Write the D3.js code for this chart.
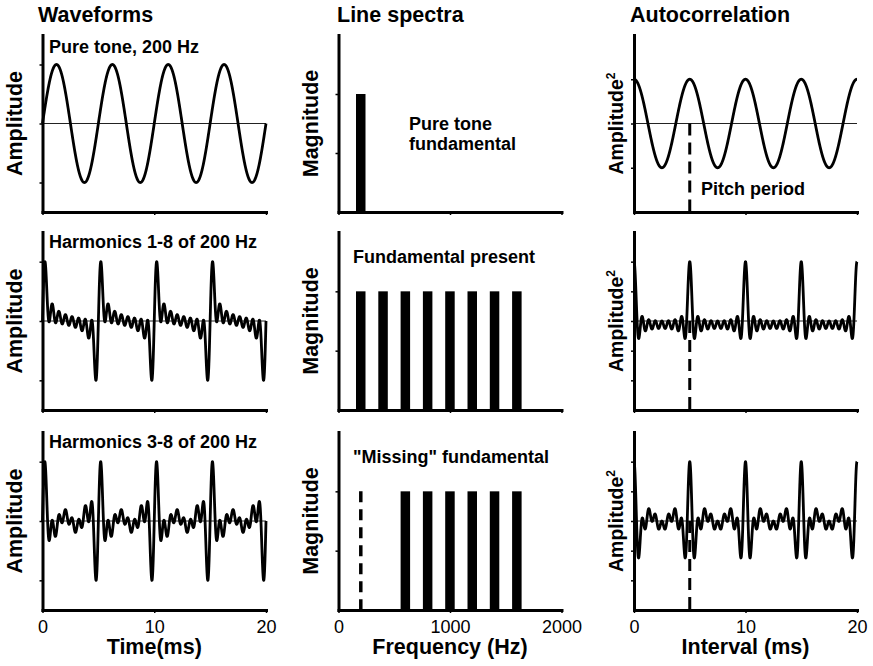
<!DOCTYPE html>
<html>
<head>
<meta charset="utf-8">
<script src="https://cdn.jsdelivr.net/npm/d3@7/dist/d3.min.js"></script>
<style>
body{margin:0;background:#fff;}
svg text{font-family:"Liberation Sans",Arial,Helvetica,sans-serif;fill:#000;}
</style>
</head>
<body>
<svg id="canvas" width="873" height="666"></svg>
<script>
// chart data
var fundamentalHz = 200;
var columnTitles = ["Waveforms", "Line spectra", "Autocorrelation"];
var yLabels = ["Amplitude", "Magnitude", "Amplitude"];
var xLabels = ["Time(ms)", "Frequency (Hz)", "Interval (ms)"];
var waveformLabels = ["Pure tone, 200 Hz", "Harmonics 1-8 of 200 Hz", "Harmonics 3-8 of 200 Hz"];
var spectrumNotes = [["Pure tone", "fundamental"], ["Fundamental present"], ["\"Missing\" fundamental"]];
var harmonicSets = [[1], [1, 2, 3, 4, 5, 6, 7, 8], [3, 4, 5, 6, 7, 8]];
var missingSets = [[], [], [1]];
var harmonicMagnitude = 1;
var timeTicks = [0, 10, 20];
var freqTicks = [0, 1000, 2000];
var waveTicks = [-1, 0, 1];
var magTicks = [0.5, 1];
var autoTicks = [[-1, 0, 1], [-1, -0.5, 0, 0.5, 1], [-1, -0.5, 0, 0.5, 1]];
var autoDomainMax = [2, 1.5, 1.5];
var pitchPeriodMs = 5;
var pitchLabel = "Pitch period";

// layout
var colX = [[42.5, 266], [338.5, 561.5], [634, 857]];
var rowY = [[212, 35], [410, 232], [610, 432]];
var titleX = [38, 337, 630];
var yLabelX = [22, 318, 623];
var waveLabelY = [53, 248, 448];
var noteXY = [[409, 130], [353, 263], [353, 463]];

var ChartWidget = {
	svg: null,
	sampleTimes: d3.range(0, 20.0001, 0.01),
	init: function(){
		ChartWidget.svg = d3.select("#canvas");
		ChartWidget.drawTitles();
		for (var r = 0; r < 3; r++) {
			ChartWidget.drawWaveform(r);
			ChartWidget.drawSpectrum(r);
			ChartWidget.drawAutocorr(r);
		}
	},
	// sum of harmonics of the fundamental (t in ms)
	waveValue: function(harmonics, t){
		return d3.sum(harmonics, function(n){
			return harmonicMagnitude * Math.sin(2 * Math.PI * n * fundamentalHz * t / 1000);
		});
	},
	autoValue: function(harmonics, tau){
		return d3.sum(harmonics, function(n){
			return harmonicMagnitude * harmonicMagnitude / 2 * Math.cos(2 * Math.PI * n * fundamentalHz * tau / 1000);
		});
	},
	drawAxes: function(g, x, y, xTicks, yTicks, showLabels){
		var ax = g.append("g")
		.attr("transform", "translate(0," + y.range()[0] + ")")
		.call(d3.axisBottom(x).tickValues(xTicks).tickSize(3).tickSizeOuter(0).tickPadding(7)
			.tickFormat(showLabels ? d3.format("d") : ""));
		var ay = g.append("g")
		.attr("transform", "translate(" + x.range()[0] + ",0)")
		.call(d3.axisLeft(y).tickValues(yTicks).tickSize(3).tickSizeOuter(0).tickFormat(""));
		[ax, ay].forEach(function(a){
			a.select(".domain").attr("stroke", "#000").attr("stroke-width", 3).attr("stroke-linecap", "square");
			a.selectAll(".tick line").attr("stroke", "#000").attr("stroke-width", 1.5);
			a.selectAll(".tick text").attr("font-size", 18).attr("font-family", null).attr("fill", "#000");
		});
	},
	zeroLine: function(g, x, y){
		g.append("line")
		.attr("x1", x.range()[0]).attr("x2", x.range()[1])
		.attr("y1", y(0)).attr("y2", y(0))
		.attr("stroke", "#222").attr("stroke-width", 1);
	},
	drawWaveform: function(r){
		var g = ChartWidget.svg.append("g");
		var x = d3.scaleLinear().domain([0, 20]).range(colX[0]);
		var y = d3.scaleLinear().domain([-1.5, 1.5]).range(rowY[r]);
		var h = harmonicSets[r];
		var pts = ChartWidget.sampleTimes.map(function(t){ return [t, ChartWidget.waveValue(h, t)]; });
		var peak = d3.max(pts, function(d){ return Math.abs(d[1]); });
		ChartWidget.zeroLine(g, x, y);
		g.append("path")
		.attr("d", d3.line().x(function(d){ return x(d[0]); }).y(function(d){ return y(d[1] / peak); })(pts))
		.attr("fill", "none").attr("stroke", "#000").attr("stroke-width", 2.8).attr("stroke-linejoin", "round");
		ChartWidget.drawAxes(g, x, y, timeTicks, waveTicks, r == 2);
		g.append("text").attr("x", 49).attr("y", waveLabelY[r])
		.attr("font-size", 18).attr("font-weight", "bold").text(waveformLabels[r]);
		ChartWidget.yLabel(0, r, y);
	},
	drawSpectrum: function(r){
		var g = ChartWidget.svg.append("g");
		var x = d3.scaleLinear().domain([0, 2000]).range(colX[1]);
		var y = d3.scaleLinear().domain([0, 1.5]).range(rowY[r]);
		g.selectAll("rect").data(harmonicSets[r]).enter().append("rect")
		.attr("x", function(n){ return x(n * fundamentalHz) - 4.8; })
		.attr("width", 9.5)
		.attr("y", y(harmonicMagnitude))
		.attr("height", y(0) - y(harmonicMagnitude))
		.attr("fill", "#000");
		g.selectAll(".missing").data(missingSets[r]).enter().append("line")
		.attr("class", "missing")
		.attr("x1", function(n){ return x(n * fundamentalHz); })
		.attr("x2", function(n){ return x(n * fundamentalHz); })
		.attr("y1", y(harmonicMagnitude)).attr("y2", y(0))
		.attr("stroke", "#000").attr("stroke-width", 3.5).attr("stroke-dasharray", "11,7");
		ChartWidget.drawAxes(g, x, y, freqTicks, magTicks, r == 2);
		var note = g.append("text").attr("font-size", 18).attr("font-weight", "bold");
		spectrumNotes[r].forEach(function(line, i){
			note.append("tspan").attr("x", noteXY[r][0]).attr("y", noteXY[r][1] + i * 20).text(line);
		});
		ChartWidget.yLabel(1, r, y);
	},
	drawAutocorr: function(r){
		var g = ChartWidget.svg.append("g");
		var x = d3.scaleLinear().domain([0, 20]).range(colX[2]);
		var y = d3.scaleLinear().domain([-autoDomainMax[r], autoDomainMax[r]]).range(rowY[r]);
		var h = harmonicSets[r];
		var r0 = ChartWidget.autoValue(h, 0);
		var pts = ChartWidget.sampleTimes.map(function(t){ return [t, ChartWidget.autoValue(h, t) / r0]; });
		ChartWidget.zeroLine(g, x, y);
		g.append("line")
		.attr("x1", x(pitchPeriodMs)).attr("x2", x(pitchPeriodMs))
		.attr("y1", y(0)).attr("y2", y.range()[0])
		.attr("stroke", "#000").attr("stroke-width", 3).attr("stroke-dasharray", "12,7");
		g.append("path")
		.attr("d", d3.line().x(function(d){ return x(d[0]); }).y(function(d){ return y(d[1]); })(pts))
		.attr("fill", "none").attr("stroke", "#000").attr("stroke-width", 2.8).attr("stroke-linejoin", "round");
		ChartWidget.drawAxes(g, x, y, timeTicks, autoTicks[r], r == 2);
		if (r == 0) {
			g.append("text").attr("x", 701).attr("y", 195)
			.attr("font-size", 18).attr("font-weight", "bold").text(pitchLabel);
		}
		ChartWidget.yLabel(2, r, y);
	},
	yLabel: function(c, r, y){
		var cy = (y.range()[0] + y.range()[1]) / 2;
		var t = ChartWidget.svg.append("text")
		.attr("transform", "translate(" + yLabelX[c] + "," + cy + ") rotate(-90)")
		.attr("text-anchor", "middle")
		.attr("font-size", c == 2 ? 19.5 : 21.5).attr("font-weight", "bold")
		.text(yLabels[c]);
		// squared unit on the autocorrelation panels
		if (c == 2) {
			t.append("tspan").attr("font-size", 12).attr("dy", -8).text("2");
		}
	},
	drawTitles: function(){
		var svg = ChartWidget.svg;
		columnTitles.forEach(function(t, i){
			svg.append("text").attr("x", titleX[i]).attr("y", 22)
			.attr("font-size", 21.5).attr("font-weight", "bold").text(t);
		});
		xLabels.forEach(function(t, i){
			svg.append("text").attr("x", (colX[i][0] + colX[i][1]) / 2).attr("y", 654)
			.attr("text-anchor", "middle")
			.attr("font-size", 21.5).attr("font-weight", "bold").text(t);
		});
	}
};

ChartWidget.init();
</script>
</body>
</html>
